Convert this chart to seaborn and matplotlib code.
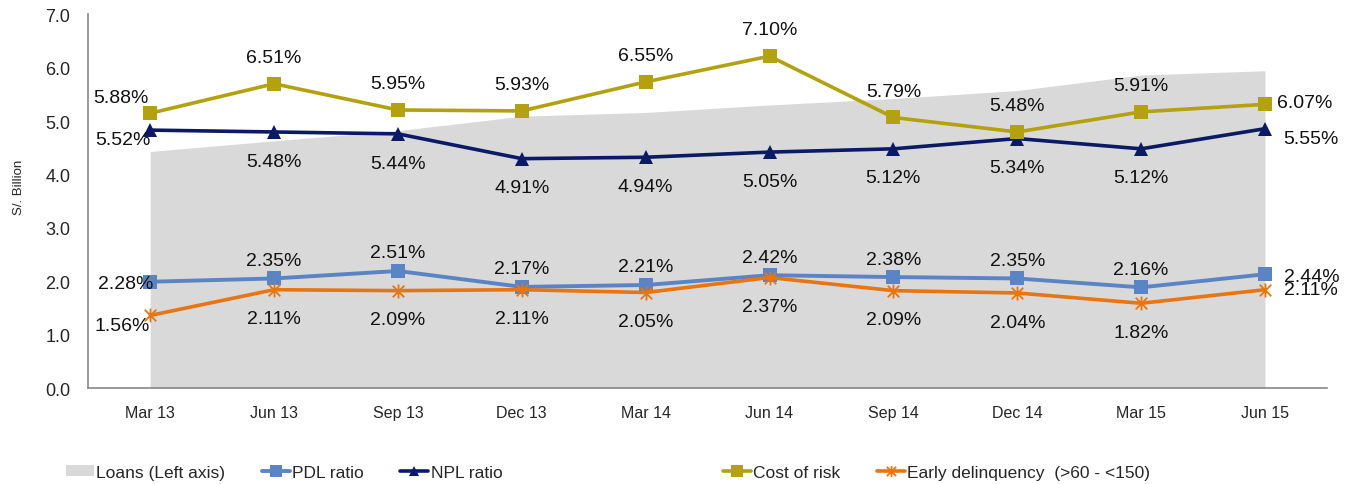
import matplotlib
matplotlib.use("Agg")
import matplotlib.pyplot as plt
import matplotlib.font_manager as fm
from matplotlib.path import Path
from matplotlib.patches import Patch
import seaborn as sns
import pandas as pd

# --- data ---
quarters = ["Mar 13", "Jun 13", "Sep 13", "Dec 13", "Mar 14",
            "Jun 14", "Sep 14", "Dec 14", "Mar 15", "Jun 15"]
loans = [4.43, 4.63, 4.82, 5.09, 5.16, 5.30, 5.42, 5.57, 5.86, 5.94]   # S/. Billion
pdl_ratio = [2.28, 2.35, 2.51, 2.17, 2.21, 2.42, 2.38, 2.35, 2.16, 2.44]
npl_ratio = [5.52, 5.48, 5.44, 4.91, 4.94, 5.05, 5.12, 5.34, 5.12, 5.55]
cost_of_risk = [5.88, 6.51, 5.95, 5.93, 6.55, 7.10, 5.79, 5.48, 5.91, 6.07]
early_delinq = [1.56, 2.11, 2.09, 2.11, 2.05, 2.37, 2.09, 2.04, 1.82, 2.11]

df = pd.DataFrame({
    "quarter": quarters,
    "loans": loans,
    "pdl": pdl_ratio,
    "npl": npl_ratio,
    "cor": cost_of_risk,
    "early": early_delinq,
})

sns.set_style("white")
plt.rcParams["font.family"] = ["Liberation Sans", "DejaVu Sans"]
names = {f.name for f in fm.fontManager.ttflist}
narrow = "Liberation Sans Narrow" if "Liberation Sans Narrow" in names else None
# reference uses a narrow face; without one, shrink a bit to keep widths close
small_ticks = 13 if narrow else 11.5
small_legend = 14 if narrow else 12.5
narrow = narrow or "Liberation Sans"

# asterisk marker like the Excel one (x plus vertical bar)
star = Path([(-0.5, -0.5), (0.5, 0.5), (-0.5, 0.5), (0.5, -0.5), (0, -0.6), (0, 0.6)],
            [Path.MOVETO, Path.LINETO, Path.MOVETO, Path.LINETO, Path.MOVETO, Path.LINETO])

fig = plt.figure(figsize=(13.54, 4.85), dpi=100)
ax = fig.add_axes([0.0652, 0.197, 0.9148, 0.772])

# loans area on the left axis
ax.fill_between(df["quarter"], 0, df["loans"], color="#D9D9D9", linewidth=0)
ax.set_ylim(0, 7)
ax.set_xlim(-0.5, 9.5)
ax.set_yticks([0, 1, 2, 3, 4, 5, 6, 7])
ax.set_yticklabels([f"{v:.1f}" for v in range(8)], fontsize=13)
ax.tick_params(axis="y", length=0, pad=13)
ax.tick_params(axis="x", length=0, pad=12)
for lab in ax.get_xticklabels():
    lab.set_fontfamily(narrow)
    lab.set_fontsize(small_ticks)
ax.set_ylabel("S/. Billion", fontsize=9.5)
ax.yaxis.set_label_coords(-0.051, 0.54)
for side in ["top", "right"]:
    ax.spines[side].set_visible(False)
for side in ["left", "bottom"]:
    ax.spines[side].set_color("#888888")
    ax.spines[side].set_linewidth(1.2)

# ratios on a hidden secondary axis
ax2 = ax.twinx()
ax2.set_ylim(0, 8)
ax2.set_yticks([])
for side in ["top", "right", "left", "bottom"]:
    ax2.spines[side].set_visible(False)

series = [
    ("pdl", "PDL ratio", "#5B84C4", "s", 10, 2.8, 0),
    ("npl", "NPL ratio", "#0B1A66", "^", 9.5, 2.6, 0),
    ("cor", "Cost of risk", "#B3A10F", "s", 10, 2.6, 0),
    ("early", "Early delinquency  (>60 - <150)", "#E87510", star, 10, 2.6, 1.3),
]

for col, label, color, mk, ms, lw, mew in series:
    kw = dict(markeredgewidth=mew, markeredgecolor=color) if mew else dict(markeredgewidth=0)
    sns.lineplot(data=df, x="quarter", y=col, ax=ax2, color=color, marker=mk,
                 markersize=ms, linewidth=lw, sort=False, label=label, **kw)

ax2.set_xlim(-0.5, 9.5)
ax2.set_ylabel("")
if ax2.get_legend():
    ax2.get_legend().remove()

# data labels, offsets in points
label_offsets = {
    "cor": [(-1, 11, "right")] + [(0, 19, "center")] * 8 + [(9, 1, "left")],
    "npl": [(0, -6.5, "right")] + [(0, -21, "center")] * 8 + [(13, -7, "left")],
    "pdl": [(2, -1.5, "right")] + [(0, 13, "center")] * 8 + [(14, -1.5, "left")],
    "early": [(0, -7, "right")] + [(0, -21, "center")] * 8 + [(14, 0, "left")],
}
for col, offs in label_offsets.items():
    for q, v, (dx, dy, ha) in zip(df["quarter"], df[col], offs):
        ax2.annotate(f"{v:.2f}%", (q, v), xytext=(dx, dy), textcoords="offset points",
                     ha=ha, va="center", fontsize=14, color="#111111", zorder=10)

# legends (two groups, as in the reference)
h2, l2 = ax2.get_legend_handles_labels()
loans_handle = Patch(facecolor="#D9D9D9", edgecolor="none")
handles = [loans_handle] + h2
labels = ["Loans (Left axis)"] + l2
common = dict(frameon=False, ncol=3, handlelength=1.6, handleheight=0.6,
              handletextpad=0.15, columnspacing=2.1, borderpad=0, borderaxespad=0,
              prop={"family": narrow, "size": small_legend}, numpoints=1, markerscale=0.8)
fig.legend(handles[:3], labels[:3], loc="center left",
           bbox_to_anchor=(66 / 1354, 0.024), **common)
fig.legend(handles[3:], labels[3:], loc="center left",
           bbox_to_anchor=(723 / 1354, 0.024), **common)

fig.savefig("out.png", dpi=100)
